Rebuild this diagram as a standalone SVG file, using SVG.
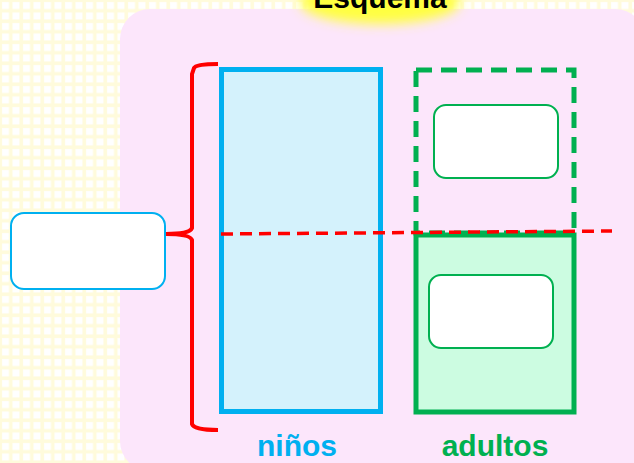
<svg xmlns="http://www.w3.org/2000/svg" width="634" height="463" viewBox="0 0 634 463">
<defs>
<pattern id="grid" width="10.5" height="10.5" patternUnits="userSpaceOnUse">
<rect width="10.5" height="10.5" fill="#fffbdc"/>
<rect x="2" y="2" width="7" height="7" fill="#ffffff"/>
</pattern>
<filter id="glow" x="-50%" y="-50%" width="200%" height="200%">
<feGaussianBlur stdDeviation="6"/>
</filter>
<style>
.inner{fill:#ffffff;stroke:#00b050;stroke-width:2}
.lbl{font-family:"Century Gothic","Liberation Sans",Arial,sans-serif;font-weight:bold;font-size:30px;text-anchor:middle}
</style>
</defs>
<rect width="634" height="463" fill="url(#grid)"/>
<rect x="120" y="9" width="525" height="462" rx="30" fill="#fce6fb"/>
<g id="title">
<ellipse cx="380" cy="2" rx="80" ry="22" fill="#ffff40" filter="url(#glow)"/>
<text x="380" y="8" class="lbl" fill="#000000" font-size="31">Esquema</text>
</g>
<g id="ninos">
<rect x="221.5" y="69.5" width="159" height="342" fill="#d4f2fc" stroke="#00b0f0" stroke-width="5"/>
</g>
<g id="adultos-top">
<rect x="416" y="70" width="158" height="163" fill="none" stroke="#00b050" stroke-width="5" stroke-dasharray="16 9"/>
<rect class="inner" x="434" y="105" width="124" height="73" rx="12"/>
</g>
<g id="adultos-bottom">
<rect x="416" y="235" width="158" height="177" fill="#ccfce1" stroke="#00b050" stroke-width="5"/>
<rect class="inner" x="429" y="275" width="124" height="73" rx="12"/>
</g>
<g id="left-box">
<rect x="11" y="213" width="154" height="76" rx="13" fill="#ffffff" stroke="#00b0f0" stroke-width="2"/>
</g>
<g id="connectors" fill="none" stroke="#ff0000" stroke-linecap="butt">
<path d="M218 64 Q196 64 194 68 L192 74 L192 228 Q190 234 166 234 Q190 234 192 240 L192 424 Q194 430 218 430" stroke-width="4"/>
<line x1="221" y1="234" x2="612" y2="231" stroke-width="3.5" stroke-dasharray="12 7"/>
</g>
<text x="297" y="456" class="lbl" fill="#00b0f0">niños</text>
<text x="495" y="456" class="lbl" fill="#00b050">adultos</text>
</svg>
